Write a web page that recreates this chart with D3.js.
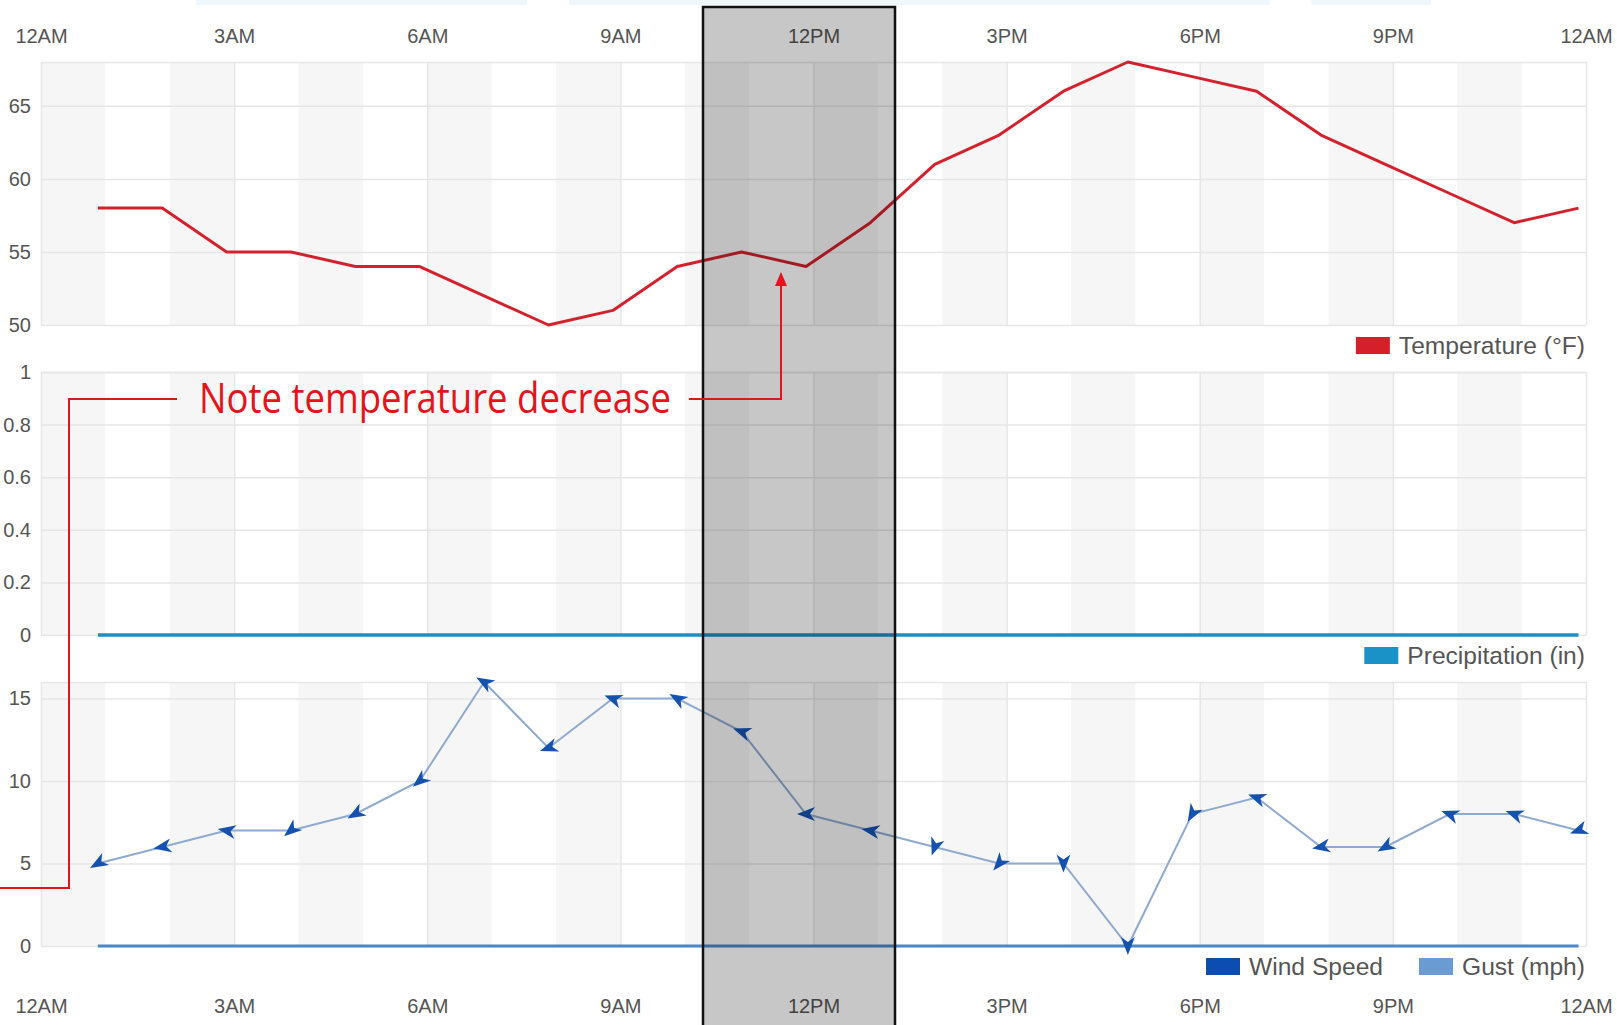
<!DOCTYPE html>
<html>
<head>
<meta charset="utf-8">
<script src="https://cdn.jsdelivr.net/npm/d3@7"></script>
<style>
  body { margin: 0; background: #fff; }
  svg { display: block; font-family: 'Liberation Sans', Arial, sans-serif; }
  .axis .domain, .grid .domain { display: none; }
  .axis text { fill: #555; font-size: 20px; }
  .grid line { stroke: #e6e6e6; stroke-width: 1.5; }
  .legend text { fill: #555; font-size: 24.6px; }
</style>
</head>
<body>
<svg id="chart"></svg>
<script>
//observation times (hourly reports at :53)
const times = ['12:53AM', '1:53AM', '2:53AM', '3:53AM', '4:53AM', '5:53AM', '6:53AM', '7:53AM',
  '8:53AM', '9:53AM', '10:53AM', '11:53AM', '12:53PM', '1:53PM', '2:53PM', '3:53PM',
  '4:53PM', '5:53PM', '6:53PM', '7:53PM', '8:53PM', '9:53PM', '10:53PM', '11:53PM'];

//series values
const temperature = [58, 58, 55, 55, 54, 54, 52, 50, 51, 54, 55, 54, 57, 61, 63, 66, 68, 67, 66, 63, 61, 59, 57, 58];
const precipitation = [0, 0, 0, 0, 0, 0, 0, 0, 0, 0, 0, 0, 0, 0, 0, 0, 0, 0, 0, 0, 0, 0, 0, 0];
const windSpeed = [5, 6, 7, 7, 8, 10, 16, 12, 15, 15, 13, 8, 7, 6, 5, 5, 0, 8, 9, 6, 6, 8, 8, 7];
const windGust = [0, 0, 0, 0, 0, 0, 0, 0, 0, 0, 0, 0, 0, 0, 0, 0, 0, 0, 0, 0, 0, 0, 0, 0];
//direction the wind blows from, degrees
const windDir = [60, 80, 100, 50, 60, 50, 120, 70, 110, 120, 110, 90, 100, 20, 40, 0, 0, 30, 110, 80, 60, 110, 110, 70];

//tick values
const tempTicks = [50, 55, 60, 65];
const precipTicks = [0, 0.2, 0.4, 0.6, 0.8, 1];
const windTicks = [0, 5, 10, 15];

const noteText = 'Note temperature decrease';

//layout
const width = 1617;
const height = 1025;
const plotLeft = 41;
const plotRight = 1586;

const parse = d3.timeParse('%I:%M%p');
const dayStart = parse('12:00AM');
const dayEnd = d3.timeDay.offset(dayStart, 1);

const data = times.map((t, i) => ({
  time: parse(t),
  temp: temperature[i],
  precip: precipitation[i],
  wind: windSpeed[i],
  gust: windGust[i],
  dir: windDir[i]
}));

const svg = d3.select('#chart')
  .attr('width', width)
  .attr('height', height);

//faint toolbar strips cut off at the top edge
[[196, 527], [569, 1270], [1311, 1431]].forEach(s => {
  svg.append('rect').attr('x', s[0]).attr('y', 0).attr('width', s[1] - s[0]).attr('height', 5).attr('fill', '#eef7fc');
});

const xScale = d3.scaleTime()
  .domain([dayStart, dayEnd])
  .range([plotLeft, plotRight]);

//one panel: bands, grid, y labels
function panel(top, bottom, domain, ticks) {
  const y = d3.scaleLinear().domain(domain).range([bottom, top]);
  const g = svg.append('g');

  //alternating hour bands
  g.append('g')
    .selectAll('rect')
    .data(d3.timeHour.range(dayStart, dayEnd, 2))
    .enter()
    .append('rect')
      .attr('x', d => xScale(d))
      .attr('y', top)
      .attr('width', d => xScale(d3.timeHour.offset(d, 1)) - xScale(d))
      .attr('height', bottom - top)
      .attr('fill', '#f6f6f6');

  //vertical grid
  g.append('g')
    .attr('class', 'grid')
    .attr('transform', 'translate(0,' + bottom + ')')
    .call(d3.axisBottom(xScale).ticks(d3.timeHour.every(3)).tickSize(-(bottom - top)).tickFormat(''));

  //horizontal grid
  g.append('g')
    .attr('class', 'grid')
    .attr('transform', 'translate(' + plotLeft + ',0)')
    .call(d3.axisLeft(y).tickValues(ticks.concat([domain[1]])).tickSize(-(plotRight - plotLeft)).tickFormat(''));

  //y labels
  g.append('g')
    .attr('class', 'axis')
    .attr('transform', 'translate(' + plotLeft + ',0)')
    .call(d3.axisLeft(y).tickValues(ticks).tickSize(0).tickPadding(10).tickFormat(d => String(+d.toFixed(1))));

  return { g: g, y: y };
}

const tempPanel = panel(62, 325, [50, 68], tempTicks);
const precipPanel = panel(372, 635, [0, 1], precipTicks);
const windPanel = panel(682, 946, [0, 16], windTicks);

//x axes top and bottom
svg.append('g')
  .attr('class', 'axis')
  .attr('transform', 'translate(0,62)')
  .call(d3.axisTop(xScale).ticks(d3.timeHour.every(3)).tickSize(0).tickPadding(19).tickFormat(d3.timeFormat('%-I%p')));

svg.append('g')
  .attr('class', 'axis')
  .attr('transform', 'translate(0,946)')
  .call(d3.axisBottom(xScale).ticks(d3.timeHour.every(3)).tickSize(0).tickPadding(53).tickFormat(d3.timeFormat('%-I%p')));

//temperature line
tempPanel.g.append('path')
  .datum(data)
  .attr('fill', 'none')
  .attr('stroke', '#d3222d')
  .attr('stroke-width', 3)
  .attr('stroke-linejoin', 'round')
  .attr('d', d3.line().x(d => xScale(d.time)).y(d => tempPanel.y(d.temp)));

//precipitation line
precipPanel.g.append('path')
  .datum(data)
  .attr('fill', 'none')
  .attr('stroke', '#1b8fc6')
  .attr('stroke-width', 3.5)
  .attr('d', d3.line().x(d => xScale(d.time)).y(d => precipPanel.y(d.precip)));

//gust line
windPanel.g.append('path')
  .datum(data)
  .attr('fill', 'none')
  .attr('stroke', '#4d88c4')
  .attr('stroke-width', 3)
  .attr('d', d3.line().x(d => xScale(d.time)).y(d => windPanel.y(d.gust)));

//wind speed line
windPanel.g.append('path')
  .datum(data)
  .attr('fill', 'none')
  .attr('stroke', '#8eaad0')
  .attr('stroke-width', 2)
  .attr('d', d3.line().x(d => xScale(d.time)).y(d => windPanel.y(d.wind)));

//wind direction arrows
windPanel.g.append('g')
  .selectAll('path')
  .data(data)
  .enter()
  .append('path')
    .attr('d', 'M9,0L-9,-7L-4,0L-9,7Z')
    .attr('fill', '#1552b0')
    .attr('transform', d => 'translate(' + xScale(d.time) + ',' + windPanel.y(d.wind) + ') rotate(' + (d.dir + 90) + ')');

//legends, laid out right to left
function legend(items, cy) {
  const g = svg.append('g').attr('class', 'legend');
  let x = 1585;
  items.forEach(item => {
    const t = g.append('text')
      .attr('x', x)
      .attr('y', cy)
      .attr('dy', '0.35em')
      .attr('text-anchor', 'end')
      .text(item.label);
    const w = t.node().getComputedTextLength();
    g.append('rect')
      .attr('x', x - w - 9 - 34)
      .attr('y', cy - 8)
      .attr('width', 34)
      .attr('height', 17)
      .attr('fill', item.color);
    x = x - w - 9 - 34 - 36;
  });
}

legend([{ label: 'Temperature (°F)', color: '#d51f2a' }], 345);
legend([{ label: 'Precipitation (in)', color: '#1a92c8' }], 655);
legend([{ label: 'Gust (mph)', color: '#6a9bd2' }, { label: 'Wind Speed', color: '#0b4db0' }], 966);

//highlight box
svg.append('rect')
  .attr('x', 703)
  .attr('y', 7)
  .attr('width', 192)
  .attr('height', 1030)
  .attr('fill', 'rgba(0,0,0,0.22)')
  .attr('stroke', '#111')
  .attr('stroke-width', 2.5);

//red note
const red = '#e3141b';
const note = svg.append('g');

note.append('text')
  .attr('x', 199)
  .attr('y', 413)
  .attr('fill', red)
  .attr('font-family', "'Open Sans', 'Noto Sans', sans-serif")
  .attr('font-size', 42)
  .attr('textLength', 472)
  .attr('lengthAdjust', 'spacingAndGlyphs')
  .text(noteText);

note.append('path')
  .attr('d', 'M177,399H69V888H0')
  .attr('fill', 'none')
  .attr('stroke', red)
  .attr('stroke-width', 2);

note.append('path')
  .attr('d', 'M689,399H781V284')
  .attr('fill', 'none')
  .attr('stroke', red)
  .attr('stroke-width', 2);

note.append('path')
  .attr('d', 'M781,272L775,286H787Z')
  .attr('fill', red);
</script>
</body>
</html>
